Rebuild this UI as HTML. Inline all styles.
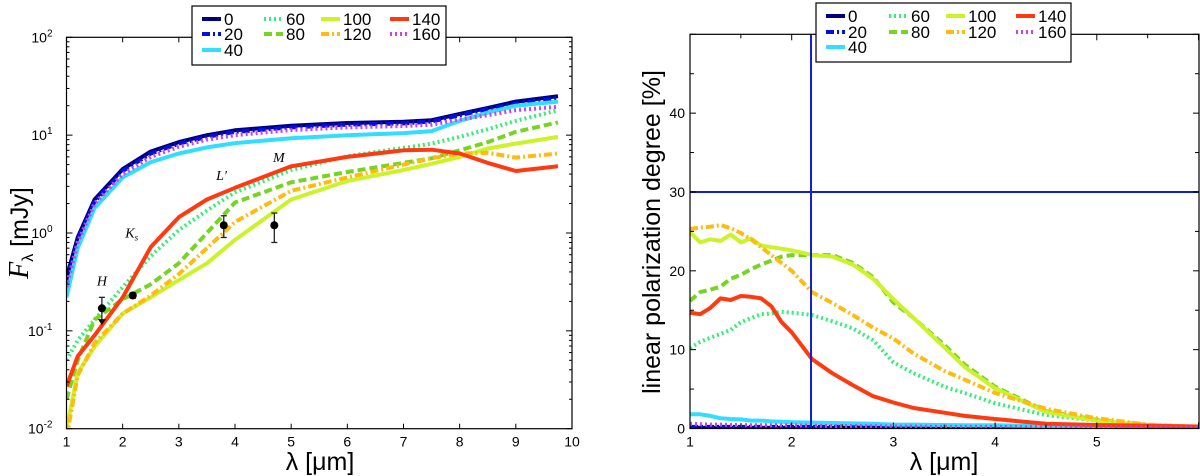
<!DOCTYPE html>
<html><head><meta charset="utf-8"><style>
body{margin:0;background:#fff}
svg{display:block;font-family:"Liberation Sans","DejaVu Sans",sans-serif}
</style></head><body>
<svg id="fig" width="1200" height="476" viewBox="0 0 1200 476" xmlns="http://www.w3.org/2000/svg">
<g id="left"></g>
<g id="right"></g>
</svg>
<script>
const NS='http://www.w3.org/2000/svg';
const seriesNames=['0','20','40','60','80','100','120','140','160'];
const seriesColors=['#00007f','#0010e0','#33ddff','#33ee77','#77d422','#ccf22a','#ffbb10','#ff3a10','#cc40ee'];
const seriesDash=['','8,3,2,3','','2,3','8,4','','8,3,2,3','','2,3'];
// SED (left) data: x wavelengths, y flux mJy
const sedX=[1,1.2,1.5,2,2.5,3,3.5,4,5,6,7,7.5,8,8.5,9,9.75];
const sed0=[0.35,0.9,2.2,4.5,6.8,8.5,10,11.2,12.5,13.3,13.7,14.2,16.5,19,22,25];
const sed20=[0.3,0.85,2.1,4.3,6.5,8.2,9.6,10.8,12,12.8,13.2,13.8,16,18.5,21,24];
const sed40=[0.22,0.7,1.8,3.7,5.3,6.5,7.5,8.3,9.3,10,10.5,11,14,17,20,22];
const sed60=[0.05,0.08,0.13,0.28,0.58,1.07,1.7,2.6,4.4,6.1,7.4,8.2,9.6,11.5,14,18];
const sed80=[0.02,0.05,0.13,0.21,0.3,0.49,1.0,2.05,3.3,4.2,5.2,5.8,7,8.5,10.8,13.5];
const sed100=[0.0098,0.037,0.069,0.15,0.22,0.33,0.49,0.85,2.2,3.4,4.4,5.1,6.0,7.3,8.2,9.6];
const sed120=[0.008,0.035,0.075,0.15,0.23,0.38,0.7,1.3,2.7,3.7,5.0,5.8,6.5,6.6,5.9,6.5];
const sed140=[0.027,0.055,0.09,0.22,0.72,1.45,2.2,2.9,4.8,6.0,7.0,7.1,6.5,5.2,4.3,4.8];
const sed160=[0.28,0.8,2.0,4.0,6.0,7.6,9,10,11.3,12,12.4,12.8,14.5,16,18,19.5];
const sedSeries=[sed0,sed20,sed40,sed60,sed80,sed100,sed120,sed140,sed160];
const obsX=[1.63,2.18,3.8,4.7];
const obsY=[0.17,0.23,1.2,1.2];
const obsLo=[0.12,0.215,0.9,0.8];
const obsHi=[0.22,0.245,1.5,1.6];
const bandNames=['H','K','L′','M'];
const bandX=[1.63,2.16,3.76,4.78];
const bandY=[0.29,0.9,3.5,5.3];
const leftXTicks=[1,2,3,4,5,6,7,8,9,10];
const leftYExp=[-2,-1,0,1,2];
// Polarization (right) data
const polX=[1,1.1,1.2,1.3,1.4,1.5,1.6,1.7,1.8,1.9,2,2.2,2.4,2.6,2.8,3,3.2,3.5,3.7,4,4.5,5,5.5,6];
const pol0=[0.1,0.1,0.1,0.1,0.1,0.1,0.1,0.1,0.1,0.1,0.1,0.1,0.1,0.1,0.1,0.1,0.1,0.1,0.1,0.1,0.1,0.1,0.1,0.1];
const pol20=[0.2,0.2,0.2,0.2,0.2,0.2,0.2,0.2,0.2,0.2,0.2,0.2,0.2,0.2,0.2,0.2,0.2,0.2,0.2,0.15,0.15,0.1,0.1,0.1];
const pol40=[1.8,1.8,1.6,1.3,1.2,1.15,1.0,1.0,0.9,0.85,0.8,0.75,0.7,0.65,0.6,0.5,0.5,0.45,0.4,0.4,0.3,0.2,0.15,0.1];
const pol60=[10.2,11,11.5,12,12.5,13.5,14,14.5,14.6,14.8,14.7,14.4,13.6,12.7,11.2,8.4,7.0,5.3,4.5,3.2,1.7,1.0,0.4,0.2];
const pol80=[16.2,17.3,17.6,18,19,19.5,20.2,20.8,21.3,21.8,22,22,22,21,19.2,16,14,10.6,8.1,5.3,2.2,1.1,0.45,0.2];
const pol100=[24.9,23.6,24,23.8,24.6,23.6,24.1,23.2,23,22.8,22.6,22,21.8,20.8,19,16.4,14,10.3,7.8,5.1,2.1,1.0,0.4,0.2];
const pol120=[25.3,25.5,25.6,25.8,25.4,24.8,24,23,22,21,20,17.3,15.9,14.4,12.8,11.4,9.5,7.3,6.2,4.5,2.5,1.3,0.5,0.2];
const pol140=[14.7,14.5,15.3,16.5,16.3,16.8,16.7,16.5,15.5,13.5,12.2,8.8,7,5.5,4.1,3.3,2.6,2,1.6,1.2,0.6,0.45,0.35,0.25];
const pol160=[0.6,0.55,0.5,0.5,0.45,0.45,0.4,0.4,0.4,0.4,0.4,0.35,0.3,0.3,0.3,0.25,0.25,0.2,0.2,0.2,0.15,0.15,0.1,0.1];
const polSeries=[pol0,pol20,pol40,pol60,pol80,pol100,pol120,pol140,pol160];
const rightXTicks=[1,2,3,4,5];
const rightYTicks=[0,10,20,30,40];
const vLineX=[2.19];
const hLineY=[30];

function mk(parent,tag,attrs,text){const e=document.createElementNS(NS,tag);for(const k in attrs)e.setAttribute(k,attrs[k]);if(text!==undefined)e.textContent=text;parent.appendChild(e);return e;}

// ---------- LEFT ----------
const L=document.getElementById('left');
const lx0=66.5,lx1=572,ly0=37.3,ly1=428.7;
const lxs=v=>lx0+(v-1)/9*(lx1-lx0);
const lys=v=>ly1-(Math.log10(v)+2)/4*(ly1-ly0);
const lclip=mk(L,'clipPath',{id:'lc'});mk(lclip,'rect',{x:lx0,y:ly0,width:lx1-lx0,height:ly1-ly0});
sedSeries.forEach((s,i)=>{
  const d=s.map((v,j)=>(j?'L':'M')+lxs(sedX[j]).toFixed(1)+','+lys(v).toFixed(1)).join(' ');
  const p=mk(L,'path',{d:d,fill:'none',stroke:seriesColors[i],'stroke-width':4,'stroke-linejoin':'round','stroke-dasharray':seriesDash[i],'clip-path':'url(#lc)'});
  
  
});
obsX.forEach((x,i)=>{
  const g=mk(L,'g',{});
  
  
  const cx=lxs(x);
  mk(g,'line',{x1:cx,x2:cx,y1:lys(obsLo[i]),y2:lys(obsHi[i]),stroke:'#222','stroke-width':1.3});
  mk(g,'line',{x1:cx-3,x2:cx+3,y1:lys(obsHi[i]),y2:lys(obsHi[i]),stroke:'#222','stroke-width':1.3});
  if(i===0){mk(g,'path',{d:`M${cx-4},${lys(obsLo[i])-4} L${cx+4},${lys(obsLo[i])-4} L${cx},${lys(obsLo[i])+2} Z`,fill:'#111'});}
  else mk(g,'line',{x1:cx-3,x2:cx+3,y1:lys(obsLo[i]),y2:lys(obsLo[i]),stroke:'#222','stroke-width':1.3});
  mk(g,'circle',{cx:cx,cy:lys(obsY[i]),r:4,fill:'#000'});
});
bandNames.forEach((b,i)=>{
  const t=mk(L,'text',{x:lxs(bandX[i]),y:lys(bandY[i]),'font-family':'Liberation Serif,serif','font-style':'italic','font-size':14,'text-anchor':'middle'},b);
  if(b==='K'){mk(t,'tspan',{'font-size':9,dy:3},'s');}
  
  
});
mk(L,'rect',{x:lx0,y:ly0,width:lx1-lx0,height:ly1-ly0,fill:'none',stroke:'#000','stroke-width':1.2,});
leftXTicks.forEach(v=>{const x=lxs(v);
  mk(L,'line',{x1:x,x2:x,y1:ly1,y2:ly1-5,stroke:'#000'});mk(L,'line',{x1:x,x2:x,y1:ly0,y2:ly0+5,stroke:'#000'});
  const t=mk(L,'text',{x:x,y:ly1+18,'font-size':14,'text-anchor':'middle'},String(v));
  });
leftYExp.forEach(e=>{const y=lys(Math.pow(10,e));
  mk(L,'line',{x1:lx0,x2:lx0+6,y1:y,y2:y,stroke:'#000'});mk(L,'line',{x1:lx1,x2:lx1-6,y1:y,y2:y,stroke:'#000'});
  const t=mk(L,'text',{x:lx0-14,y:y+5,'font-size':14,'text-anchor':'end'},'10');
  mk(t,'tspan',{'font-size':10,dy:-6},String(e));
  
  if(e<2)for(let k=2;k<10;k++){const yy=lys(k*Math.pow(10,e));mk(L,'line',{x1:lx0,x2:lx0+3,y1:yy,y2:yy,stroke:'#000'});mk(L,'line',{x1:lx1,x2:lx1-3,y1:yy,y2:yy,stroke:'#000'});}
});
let t=mk(L,'text',{x:320,y:470,'font-size':25,'text-anchor':'middle'},'λ [μm]');
t=mk(L,'text',{x:0,y:0,'font-size':25,'text-anchor':'middle',transform:'translate(28,233) rotate(-90)'});
mk(t,'tspan',{'font-family':'Liberation Serif,serif','font-style':'italic','font-size':28},'F');mk(t,'tspan',{'font-size':16,dy:5},'λ');mk(t,'tspan',{dy:-5},'  [mJy]');


function legend(parent,bx,by,bw,bh,cols,rows,name){
  const g=mk(parent,'g',{});
  
  mk(g,'rect',{x:bx,y:by,width:bw,height:bh,fill:'#fff',stroke:'#000','stroke-width':1.2});
  seriesNames.forEach((n,i)=>{
    const c=[0,0,0,1,1,2,2,3,3][i],r=[0,1,2,0,1,0,1,0,1][i];
    const hx=cols[c],y=rows[r];
    const e=mk(g,'g',{});
    
    mk(e,'line',{x1:hx,x2:hx+19,y1:y,y2:y,stroke:seriesColors[i],'stroke-width':4,'stroke-dasharray':seriesDash[i]});
    mk(e,'text',{x:hx+22,y:y+6,'font-size':17},n);
  });
}
legend(L,192,6,254,59,[202,264,321,390],[19,34,50],'left-legend');

// ---------- RIGHT ----------
const R=document.getElementById('right');
const rx0=690,rx1=1199,ry0=34.3,ry1=428.5;
const rxs=v=>rx0+(v-1)*101.7;
const rys=v=>ry1-v/50*(ry1-ry0);
const rclip=mk(R,'clipPath',{id:'rc'});mk(rclip,'rect',{x:rx0,y:ry0,width:rx1-rx0,height:ry1-ry0});
polSeries.forEach((s,i)=>{
  const d=s.map((v,j)=>(j?'L':'M')+rxs(polX[j]).toFixed(1)+','+rys(v).toFixed(1)).join(' ');
  const p=mk(R,'path',{d:d,fill:'none',stroke:seriesColors[i],'stroke-width':4,'stroke-linejoin':'round','stroke-dasharray':seriesDash[i],'clip-path':'url(#rc)'});
  
  
});
vLineX.forEach(v=>{const l=mk(R,'line',{x1:rxs(v),x2:rxs(v),y1:ry0,y2:ry1,stroke:'#1020d0','stroke-width':2});});
hLineY.forEach(v=>{const l=mk(R,'line',{x1:rx0,x2:rx1,y1:rys(v),y2:rys(v),stroke:'#1020d0','stroke-width':2});});
mk(R,'rect',{x:rx0,y:ry0,width:rx1-rx0,height:ry1-ry0,fill:'none',stroke:'#000','stroke-width':1.2,});
for(let v=1;v<=6;v+=0.5){const x=rxs(v);if(x>rx1)break;const len=(v%1===0)?6:4;
  mk(R,'line',{x1:x,x2:x,y1:ry1,y2:ry1-len,stroke:'#000'});mk(R,'line',{x1:x,x2:x,y1:ry0,y2:ry0+len,stroke:'#000'});}
rightXTicks.forEach(v=>{const t=mk(R,'text',{x:rxs(v),y:ry1+18,'font-size':14,'text-anchor':'middle'},String(v));});
for(let v=0;v<=50;v+=5){const y=rys(v);const len=(v%10===0)?6:4;
  mk(R,'line',{x1:rx0,x2:rx0+len,y1:y,y2:y,stroke:'#000'});mk(R,'line',{x1:rx1,x2:rx1-len,y1:y,y2:y,stroke:'#000'});}
rightYTicks.forEach(v=>{const t=mk(R,'text',{x:rx0-5,y:rys(v)+5,'font-size':14,'text-anchor':'end'},String(v));});
t=mk(R,'text',{x:944,y:470,'font-size':25,'text-anchor':'middle'},'λ [μm]');
t=mk(R,'text',{x:0,y:0,'font-size':25,'text-anchor':'middle',transform:'translate(660,232) rotate(-90)'},'linear polarization degree [%]');

legend(R,816,3,255,59,[826,889,946,1016],[16,32,47],'right-legend');
</script>
</body></html>
